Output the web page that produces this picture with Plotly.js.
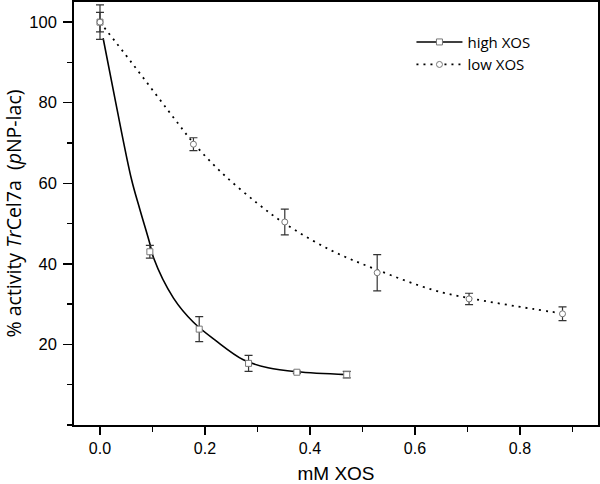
<!DOCTYPE html>
<html>
<head>
<meta charset="utf-8">
<script src="https://cdn.plot.ly/plotly-3.0.1.min.js"></script>
<style>html,body{margin:0;padding:0;background:#fff;}#chart{width:600px;height:484px;}</style>
</head>
<body>
<div id="chart"></div>
<script>
// Measured data (mM XOS vs % activity)
const highX = [0, 0.095, 0.189, 0.283, 0.375, 0.470];
const highY = [100, 43.0, 23.8, 15.3, 13.1, 12.5];
const highErr = [2.4, 1.6, 3.1, 2.0, 0.3, 0.8];

const lowX = [0, 0.178, 0.352, 0.528, 0.703, 0.881];
const lowY = [100, 69.7, 50.4, 37.8, 31.3, 27.6];
const lowErr = [4.3, 1.6, 3.2, 4.5, 1.4, 1.7];

// Fitted curves
const highFitX = [0.006, 0.03, 0.06, 0.076, 0.095, 0.102, 0.14, 0.178, 0.22, 0.273, 0.32, 0.375, 0.47];
const highFitY = [96, 80, 61, 53.5, 45, 41.5, 31.5, 25.5, 21, 16.2, 14.2, 13.2, 12.5];
const lowFitX = [0, 0.06, 0.149, 0.178, 0.232, 0.30, 0.352, 0.438, 0.528, 0.635, 0.703, 0.825, 0.881];
const lowFitY = [100, 90, 74.8, 70, 62.6, 55, 50, 43.5, 38.5, 33.5, 31.5, 28.8, 27.7];

const seriesNames = ['high XOS', 'low XOS'];

const markerH = {symbol: 'square', size: 6, color: '#fff', line: {color: '#777', width: 1}};
const markerL = {symbol: 'circle', size: 6, color: '#fff', line: {color: '#777', width: 1}};
const errStyle = {type: 'data', visible: true, color: '#333', thickness: 1.2, width: 4};

const traces = [
  {x: highFitX, y: highFitY, mode: 'lines', line: {color: '#000', width: 1.6, shape: 'spline'}, showlegend: false, hoverinfo: 'skip'},
  {x: lowFitX, y: lowFitY, mode: 'lines', line: {color: '#000', width: 1.8, shape: 'spline', dash: '2px,5px'}, showlegend: false, hoverinfo: 'skip'},
  {x: highX, y: highY, mode: 'markers', marker: markerH, error_y: Object.assign({array: highErr}, errStyle), showlegend: false},
  {x: lowX, y: lowY, mode: 'markers', marker: markerL, error_y: Object.assign({array: lowErr}, errStyle), showlegend: false},
  {x: [null], y: [null], name: seriesNames[0], mode: 'lines+markers', line: {color: '#000', width: 1.6}, marker: markerH},
  {x: [null], y: [null], name: seriesNames[1], mode: 'lines+markers', line: {color: '#000', width: 1.8, dash: '2px,5px'}, marker: markerL}
];

const layout = {
  width: 600, height: 484,
  margin: {l: 74, r: 2, t: 2, b: 59},
  paper_bgcolor: '#fff', plot_bgcolor: '#fff',
  showlegend: true,
  legend: {x: 0.644, y: 0.944, xanchor: 'left', yanchor: 'top', bgcolor: 'rgba(0,0,0,0)',
           font: {family: 'Open Sans', size: 15, color: '#000'}, itemwidth: 46},
  xaxis: {
    range: [-0.0495, 0.9486], dtick: 0.2, tick0: 0, tickformat: '.1f',
    ticks: 'outside', ticklen: 8, tickwidth: 1.5, tickcolor: '#000',
    minor: {dtick: 0.1, tick0: 0, ticks: 'outside', ticklen: 5, tickwidth: 1.5, tickcolor: '#000'},
    showline: true, mirror: true, linecolor: '#000', linewidth: 1.8,
    showgrid: false, zeroline: false,
    tickfont: {family: 'Liberation Sans', size: 16, color: '#000'},
    title: {text: 'mM XOS', font: {family: 'Liberation Sans', size: 19, color: '#000'}, standoff: 12}
  },
  yaxis: {
    range: [0, 105], dtick: 20, tick0: 0,
    ticks: 'outside', ticklen: 9, tickwidth: 1.5, tickcolor: '#000',
    minor: {dtick: 10, tick0: 0, ticks: 'outside', ticklen: 5, tickwidth: 1.5, tickcolor: '#000'},
    showline: true, mirror: true, linecolor: '#000', linewidth: 1.8,
    showgrid: false, zeroline: false,
    tickvals: [20, 40, 60, 80, 100],
    ticklabelstandoff: 3,
    tickfont: {family: 'Liberation Sans', size: 16.5, color: '#000'},
    title: {text: '% activity <i>Tr</i>Cel7a  (<i>p</i>NP-lac)', font: {family: 'Open Sans', size: 19.5, color: '#000'}, standoff: 6}
  }
};

Plotly.newPlot('chart', traces, layout, {staticPlot: true});
</script>
</body>
</html>
